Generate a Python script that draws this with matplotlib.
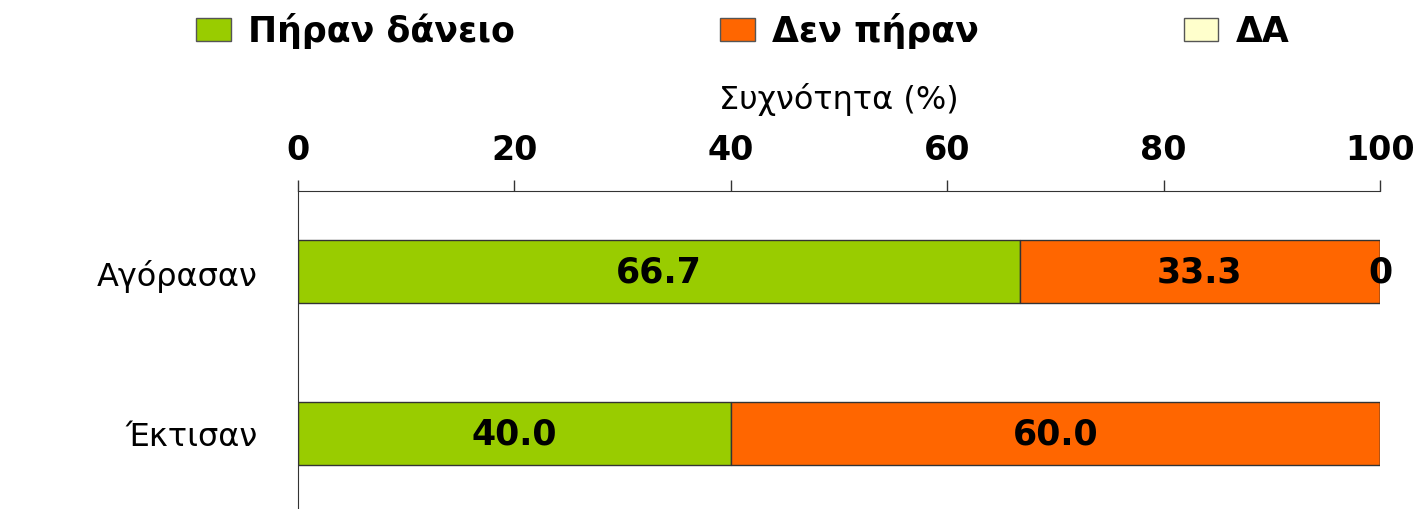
import numpy as np
import matplotlib
matplotlib.use("Agg")
import matplotlib.pyplot as plt
from matplotlib.patches import Patch

categories = ["Αγόρασαν", "Έκτισαν"]
took_loan = [66.7, 40.0]
no_loan = [33.3, 60.0]
no_answer = [0.0, np.nan]  # ΔΑ not reported for the second group
series_names = ["Πήραν δάνειο", "Δεν πήραν", "ΔΑ"]
colors = ["#99CC00", "#FF6600", "#FFFFCC"]
xticks = [0, 20, 40, 60, 80, 100]

plt.rcParams["font.family"] = "DejaVu Sans"

fig = plt.figure(figsize=(14.23, 5.10), dpi=100)
ax = fig.add_axes([298 / 1423, -5 / 510, (1380 - 298) / 1423, (515 - 192) / 510])

y = np.arange(len(categories))
h = 0.39
left = np.zeros(len(categories))
for vals, col in zip([took_loan, no_loan, no_answer], colors):
    v = np.nan_to_num(np.array(vals, dtype=float))
    ax.barh(y, v, left=left, height=h, color=col, edgecolor="#333333", linewidth=1)
    for i, val in enumerate(vals):
        if not np.isnan(val):
            ax.text(left[i] + v[i] / 2, y[i], f"{val:.1f}" if val else "0",
                    ha="center", va="center", fontsize=25, fontweight="bold")
    left += v

ax.set_xlim(0, 100)
ax.set_ylim(len(categories) - 0.5, -0.5)
ax.set_yticks(y)
ax.set_yticklabels(categories, fontsize=23)
ax.tick_params(axis="y", length=0, pad=29)
ax.xaxis.tick_top()
ax.xaxis.set_label_position("top")
ax.set_xticks(xticks)
ax.set_xticklabels([str(t) for t in xticks], fontsize=24, fontweight="bold")
ax.tick_params(axis="x", length=8, width=1, pad=10, color="#333333")
ax.set_xlabel("Συχνότητα (%)", fontsize=23, labelpad=18)
for s in ["right", "bottom"]:
    ax.spines[s].set_visible(False)
for s in ["top", "left"]:
    ax.spines[s].set_color("#333333")

handles = [Patch(facecolor=c, edgecolor="#555555", label=n) for c, n in zip(colors, series_names)]
fig.legend(handles=handles, loc="upper center", bbox_to_anchor=(0.522, 1.035), ncol=3,
           frameon=False, prop={"size": 25, "weight": "bold"},
           handlelength=1.0, handleheight=0.65, columnspacing=5.9, handletextpad=0.5)

fig.savefig("out.png", dpi=100)
